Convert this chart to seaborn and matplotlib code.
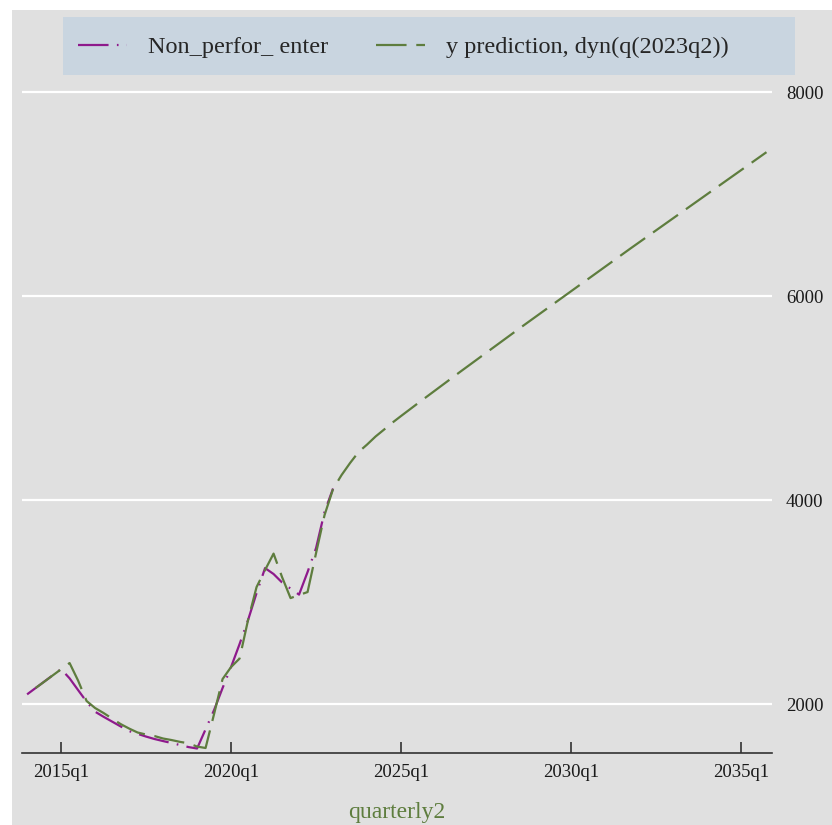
import matplotlib
matplotlib.use("Agg")
import matplotlib.pyplot as plt
import pandas as pd
import seaborn as sns
from matplotlib.patches import Rectangle

# Non-performing loans (enterprises), quarterly, 2014q1-2023q1
actual_start, actual_end = "2014Q1", "2023Q1"
actual_values = [
    2095, 2157, 2219, 2281,
    2343, 2252, 2137, 2023,
    1925, 1875, 1828, 1781,
    1735, 1708, 1681, 1657,
    1637, 1618, 1598, 1578,
    1564, 1752, 1941, 2157,
    2363, 2588, 2824, 3088,
    3333, 3275, 3192, 3132,
    3073, 3294, 3529, 3884,
    4113,
]

# Fitted values and dynamic forecast from 2023q2, 2014q2-2035q4
pred_start, pred_end = "2014Q2", "2035Q4"
pred_values = [
    2157, 2218, 2280,
    2341, 2402, 2230, 2030,
    1961, 1912, 1858, 1804,
    1760, 1721, 1701, 1686,
    1662, 1647, 1629, 1615,
    1583, 1569, 1902, 2245,
    2363, 2446, 2824, 3147,
    3314, 3475, 3245, 3039,
    3069, 3098, 3480, 3853,
    4108, 4245, 4363, 4471,
    4544, 4623, 4691, 4760,
    4824, 4887, 4950, 5012,
    5074, 5136, 5198, 5260,
    5321, 5382, 5443, 5504,
    5565, 5626, 5687, 5747,
    5807, 5867, 5927, 5987,
    6047, 6107, 6167, 6227,
    6287, 6347, 6407, 6467,
    6526, 6585, 6644, 6703,
    6762, 6821, 6880, 6939,
    6998, 7057, 7116, 7175,
    7234, 7293, 7352, 7411,
]

tick_quarters = ["2015Q1", "2020Q1", "2025Q1", "2030Q1", "2035Q1"]
tick_labels = ["2015q1", "2020q1", "2025q1", "2030q1", "2035q1"]
y_ticks = [2000, 4000, 6000, 8000]

series_names = ["Non_perfor_ enter", "y prediction, dyn(q(2023q2))"]
purple = "#8E1A8C"
green = "#5E7D3E"
panel_grey = "#E0E0E0"
legend_blue = "#C9D5E0"

base = pd.Period("2015Q1", freq="Q").ordinal


def quarter_index(start, end):
    return [p.ordinal - base for p in pd.period_range(start, end, freq="Q")]


actual_df = pd.DataFrame({"quarter": quarter_index(actual_start, actual_end),
                          "value": actual_values})
pred_df = pd.DataFrame({"quarter": quarter_index(pred_start, pred_end),
                        "value": pred_values})
tick_pos = [pd.Period(q, freq="Q").ordinal - base for q in tick_quarters]

sns.set_theme(style="white")
plt.rcParams["font.family"] = ["Liberation Serif", "DejaVu Serif"]
plt.rcParams["lines.scale_dashes"] = False

W, H = 832, 825
fig = plt.figure(figsize=(W / 100, H / 100), dpi=100, facecolor="white")
fig.add_artist(Rectangle((12 / W, 0), 1 - 12 / W, 1 - 10 / H,
                         transform=fig.transFigure, facecolor=panel_grey,
                         edgecolor="none", zorder=-10))
fig.add_artist(Rectangle((63 / W, 1 - 75 / H), 732 / W, 58 / H,
                         transform=fig.transFigure, facecolor=legend_blue,
                         edgecolor="none", zorder=-5))

ax = fig.add_axes([22 / W, 1 - 753 / H, 750 / W, (753 - 87) / H])
ax.set_facecolor(panel_grey)

sns.lineplot(data=actual_df, x="quarter", y="value", ax=ax, color=purple,
             lw=1.6, linestyle=(0, (22, 6, 1.2, 6)), label=series_names[0])
sns.lineplot(data=pred_df, x="quarter", y="value", ax=ax, color=green,
             lw=1.6, linestyle=(0, (22, 7)), label=series_names[1])

ax.set_xlim(-4.6, 83.65)
ax.set_ylim(1520, 8050)

ax.set_xticks(tick_pos)
ax.set_xticklabels(tick_labels)
ax.set_yticks(y_ticks)
ax.yaxis.tick_right()
ax.tick_params(axis="y", length=0, pad=10, labelsize=13.5, labelcolor="#1a1a1a")
ax.tick_params(axis="x", bottom=True, direction="in", length=8, width=1.2,
               color="#333333", pad=8, labelsize=13.5, labelcolor="#1a1a1a")

ax.grid(axis="y", color="white", lw=1.6)
ax.grid(axis="x", visible=False)
ax.set_axisbelow(True)
for side in ["top", "left", "right"]:
    ax.spines[side].set_visible(False)
ax.spines["bottom"].set_color("#333333")
ax.spines["bottom"].set_linewidth(1.2)

ax.set_ylabel("")
ax.set_xlabel("quarterly2", fontsize=17, color=green, labelpad=15)

handles, labels = ax.get_legend_handles_labels()
ax.get_legend().remove()
fig.legend(handles, labels, loc="center left",
           bbox_to_anchor=(78 / W, 1 - 47 / H), ncol=2, frameon=False,
           borderpad=0, borderaxespad=0, fontsize=17.5,
           handlelength=2.0, handletextpad=0.9, columnspacing=1.95)

fig.savefig("out.png", dpi=100, facecolor=fig.get_facecolor())
